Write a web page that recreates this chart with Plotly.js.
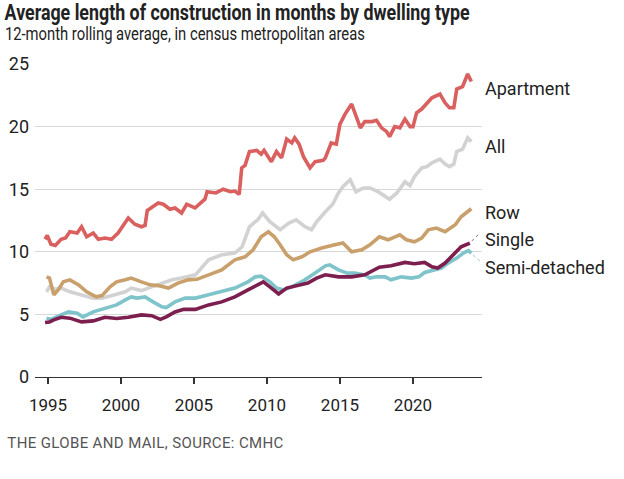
<!DOCTYPE html>
<html>
<head>
<meta charset="utf-8">
<script src="https://cdn.plot.ly/plotly-3.0.1.min.js"></script>
<style>html,body{margin:0;padding:0;background:#fff;}#chart{width:624px;height:479px;}</style>
</head>
<body>
<div id="chart"></div>
<script>
const seriesNames = ["Apartment", "All", "Row", "Single", "Semi-detached"];

const apartmentX = [1994.8,1994.95,1995.2,1995.5,1995.9,1996.2,1996.5,1997.0,1997.3,1997.65,1998.1,1998.45,1998.9,1999.35,1999.8,2000.3,2000.5,2000.95,2001.4,2001.65,2001.8,2002.55,2002.9,2003.35,2003.7,2004.15,2004.5,2005.07,2005.5,2005.75,2005.9,2006.5,2007.0,2007.5,2007.8,2008.1,2008.27,2008.5,2008.8,2009.3,2009.6,2009.8,2010.3,2010.65,2011.0,2011.35,2011.7,2011.9,2012.2,2012.5,2012.95,2013.3,2013.85,2014.0,2014.4,2014.75,2015.0,2015.35,2015.8,2016.0,2016.4,2016.7,2017.2,2017.5,2017.85,2018.2,2018.4,2018.75,2019.1,2019.45,2019.8,2020.0,2020.25,2020.6,2020.95,2021.3,2021.85,2022.2,2022.5,2022.8,2023.0,2023.4,2023.75,2024.0];
const apartmentY = [11.0,11.3,10.6,10.5,11.0,11.1,11.6,11.5,12.0,11.2,11.5,11.0,11.1,11.0,11.5,12.3,12.7,12.2,12.0,12.1,13.3,13.9,13.8,13.4,13.5,13.1,13.8,13.5,14.0,14.2,14.8,14.7,15.0,14.8,14.85,14.6,16.7,16.9,18.0,18.1,17.8,18.1,17.2,18.0,17.5,19.0,18.7,19.1,18.6,17.6,16.7,17.2,17.3,17.5,18.7,18.6,20.2,21.0,21.8,21.1,19.9,20.4,20.4,20.5,19.9,19.6,19.2,20.0,19.9,20.6,20.0,20.0,21.1,21.4,21.9,22.3,22.6,21.9,21.5,21.5,23.0,23.2,24.2,23.6];

const allX = [1994.9,1995.1,1995.5,1995.9,1996.5,1997.3,1998.1,1998.7,1999.5,2000.3,2000.7,2001.4,2002.1,2002.9,2003.5,2004.15,2005.1,2006.0,2006.9,2007.8,2008.3,2008.8,2009.4,2009.7,2010.2,2010.9,2011.5,2012.0,2012.6,2013.05,2013.4,2014.0,2014.5,2014.9,2015.2,2015.7,2016.1,2016.6,2017.05,2017.6,2018.2,2018.4,2018.9,2019.45,2019.8,2020.1,2020.6,2020.95,2021.3,2021.85,2022.2,2022.5,2022.8,2023.0,2023.4,2023.75,2024.0];
const allY = [6.8,7.2,7.0,7.1,6.8,6.55,6.3,6.3,6.55,6.8,7.1,6.9,7.2,7.5,7.76,7.9,8.16,9.36,9.76,9.9,10.4,12.0,12.6,13.1,12.4,11.76,12.3,12.56,12.0,11.76,12.4,13.2,13.8,14.7,15.2,15.76,14.8,15.1,15.1,14.8,14.4,14.2,14.7,15.6,15.3,16.0,16.7,16.8,17.1,17.4,17.0,16.8,17.0,18.0,18.2,19.1,18.8];

const rowX = [1994.9,1995.1,1995.4,1995.7,1996.05,1996.5,1997.1,1997.65,1998.3,1998.7,1999.25,1999.7,2000.3,2000.7,2001.4,2002.0,2002.55,2003.25,2003.9,2004.6,2005.2,2006.0,2006.9,2007.8,2008.5,2009.05,2009.4,2009.6,2010.1,2010.5,2010.9,2011.35,2011.8,2012.4,2012.95,2013.75,2014.65,2015.2,2015.8,2016.5,2017.05,2017.7,2018.3,2019.1,2019.55,2020.1,2020.6,2021.05,2021.6,2022.2,2022.9,2023.3,2024.0];
const rowY = [8.0,7.9,6.56,6.96,7.6,7.76,7.36,6.8,6.4,6.5,7.2,7.6,7.76,7.9,7.6,7.36,7.3,7.1,7.5,7.76,7.8,8.16,8.56,9.36,9.6,10.16,10.8,11.2,11.6,11.2,10.56,9.76,9.36,9.6,10.0,10.3,10.56,10.7,10.0,10.16,10.56,11.2,10.96,11.36,10.96,10.8,11.1,11.76,11.9,11.6,12.16,12.8,13.44];

const singleX = [1994.8,1995.1,1995.4,1995.9,1996.5,1997.3,1998.1,1998.9,1999.7,2000.5,2001.4,2002.1,2002.7,2003.1,2003.7,2004.3,2005.1,2006.0,2006.9,2007.8,2008.7,2009.2,2009.75,2010.2,2010.8,2011.35,2012.15,2012.8,2013.4,2014.0,2014.9,2015.8,2016.7,2017.7,2018.5,2019.45,2020.1,2020.8,2021.3,2021.7,2022.2,2022.75,2023.3,2023.9];
const singleY = [4.35,4.4,4.56,4.77,4.7,4.4,4.48,4.77,4.67,4.77,4.96,4.9,4.6,4.8,5.2,5.4,5.4,5.76,6.0,6.4,6.96,7.3,7.6,7.2,6.64,7.1,7.28,7.5,7.9,8.16,8.0,8.0,8.16,8.77,8.88,9.15,9.05,9.15,8.8,8.7,9.1,9.76,10.4,10.7];

const semiX = [1994.9,1995.2,1995.9,1996.4,1997.0,1997.4,1998.1,1998.9,1999.7,2000.3,2000.7,2001.1,2001.65,2002.2,2002.8,2003.1,2003.7,2004.4,2005.1,2006.0,2006.9,2007.8,2008.7,2009.2,2009.6,2010.2,2010.65,2011.1,2011.7,2012.6,2013.3,2014.0,2014.3,2014.9,2015.5,2016.0,2016.7,2017.05,2017.5,2018.1,2018.5,2019.2,2019.9,2020.4,2020.8,2021.5,2021.95,2022.4,2023.0,2023.45,2023.8,2024.0];
const semiY = [4.7,4.6,4.96,5.2,5.1,4.8,5.2,5.5,5.76,6.16,6.4,6.3,6.4,6.0,5.6,5.55,6.0,6.3,6.3,6.56,6.8,7.1,7.6,8.0,8.05,7.6,7.1,6.96,7.2,7.76,8.3,8.88,8.96,8.56,8.3,8.3,8.16,7.9,8.0,8.0,7.76,8.0,7.9,8.0,8.35,8.56,8.7,9.1,9.5,9.9,10.1,9.9];

const yearTicks = [1995, 2000, 2005, 2010, 2015, 2020];
const yTicks = [0, 5, 10, 15, 20, 25];

const colors = {
  "Apartment": "#d9605f",
  "All": "#d2d2d2",
  "Row": "#c9a06c",
  "Single": "#7c1f4f",
  "Semi-detached": "#7fc4cb"
};

const FONT = "'Roboto', sans-serif";

function line(name, xs, ys) {
  return {
    type: "scatter", mode: "lines", name: name, x: xs, y: ys,
    line: {color: colors[name], width: 3.6, shape: "linear"},
    hoverinfo: "skip"
  };
}

const data = [
  line("All", allX, allY),
  line("Row", rowX, rowY),
  line("Semi-detached", semiX, semiY),
  line("Single", singleX, singleY),
  line("Apartment", apartmentX, apartmentY)
];

const layout = {
  width: 624, height: 479,
  margin: {l: 35, r: 142, t: 64, b: 102},
  paper_bgcolor: "#fff", plot_bgcolor: "#fff",
  showlegend: false,
  font: {family: FONT, color: "#222"},
  xaxis: {
    range: [1994.11, 2024.73],
    tickvals: yearTicks, ticktext: yearTicks.map(String),
    showgrid: false, zeroline: false,
    showline: true, linecolor: "#333", linewidth: 1.3,
    ticks: "outside", ticklen: 6, tickcolor: "#333", tickwidth: 1.3,
    tickfont: {family: FONT, size: 17, color: "#222"},
    ticklabelstandoff: 6
  },
  yaxis: {
    range: [0, 25],
    tickvals: yTicks, ticktext: yTicks.map(String),
    showgrid: true, gridcolor: "#d8d8d8", gridwidth: 1.3,
    zeroline: false, showline: false, ticks: "",
    tickfont: {family: FONT, size: 18, color: "#222"},
    ticklabelstandoff: 5
  },
  annotations: [
    {text: "Average length of construction in months by dwelling type", xref: "paper", yref: "paper", x: 0.4530, y: 1.163, xanchor: "center", yanchor: "middle", showarrow: false, font: {family: FONT, size: 22, weight: 700, color: "#222"}},
    {text: "12-month rolling average, in census metropolitan areas", xref: "paper", yref: "paper", x: 0.3356, y: 1.097, xanchor: "center", yanchor: "middle", showarrow: false, font: {family: FONT, size: 17.5, color: "#222"}},
    {text: "THE GLOBE AND MAIL, SOURCE: CMHC", xref: "paper", yref: "paper", x: 0.2461, y: -0.211, xanchor: "center", yanchor: "middle", showarrow: false, font: {family: FONT, size: 15, color: "#555"}},
    {text: "Apartment", xref: "paper", yref: "paper", x: 1.0022, y: 0.923, xanchor: "left", yanchor: "middle", showarrow: false, font: {family: FONT, size: 18, color: "#222"}},
    {text: "All", xref: "paper", yref: "paper", x: 1.0022, y: 0.735, xanchor: "left", yanchor: "middle", showarrow: false, font: {family: FONT, size: 18, color: "#222"}},
    {text: "Row", xref: "paper", yref: "paper", x: 1.0022, y: 0.524, xanchor: "left", yanchor: "middle", showarrow: false, font: {family: FONT, size: 18, color: "#222"}},
    {text: "Single", xref: "paper", yref: "paper", x: 1.0022, y: 0.438, xanchor: "left", yanchor: "middle", showarrow: false, font: {family: FONT, size: 18, color: "#222"}},
    {text: "Semi-detached", xref: "paper", yref: "paper", x: 1.0022, y: 0.351, xanchor: "left", yanchor: "middle", showarrow: false, font: {family: FONT, size: 18, color: "#222"}}
  ],
  shapes: [
    {type: "line", xref: "paper", yref: "paper", x0: 0.977, y0: 0.4345, x1: 0.9955, y1: 0.460, line: {color: "#777", width: 1, dash: "dot"}},
    {type: "line", xref: "paper", yref: "paper", x0: 0.980, y0: 0.3898, x1: 0.9955, y1: 0.3706, line: {color: "#9cc", width: 1, dash: "dot"}}
  ]
};

Plotly.newPlot("chart", data, layout, {staticPlot: true, displayModeBar: false}).then(function () {
  // fit title, subtitle and source line to the reference's text widths
  const texts = document.querySelectorAll("#chart .annotation-text");
  const widths = [465, 360, 276];
  widths.forEach(function (w, i) {
    const t = texts[i];
    if (t) {
      t.setAttribute("textLength", w);
      t.setAttribute("lengthAdjust", i === 2 ? "spacing" : "spacingAndGlyphs");
    }
  });
});
</script>
</body>
</html>
